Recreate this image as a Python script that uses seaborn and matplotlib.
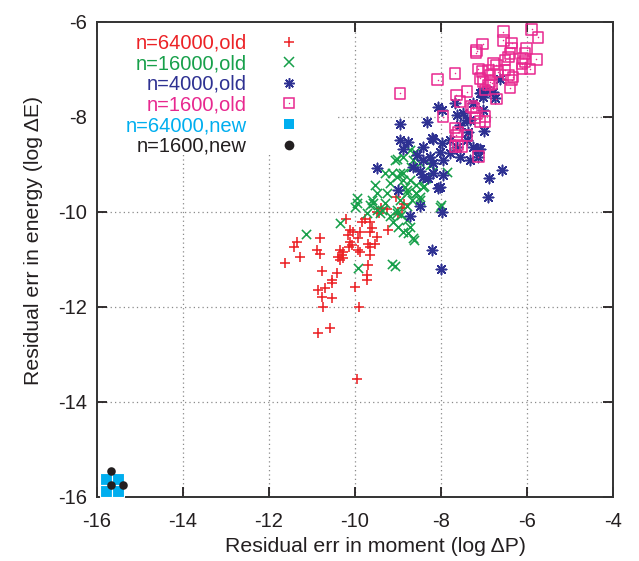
import matplotlib
matplotlib.use("Agg")
import matplotlib.pyplot as plt
import seaborn as sns
from matplotlib.lines import Line2D
from matplotlib.patches import Rectangle
from matplotlib.legend_handler import HandlerTuple

sns.set_style("ticks")
plt.rcParams['font.family'] = ['Liberation Sans', 'DejaVu Sans']

# ---------------- data ----------------
red_x = [-11.63, -11.43, -11.36, -11.28, -10.81, -10.89, -10.81, -10.77, -10.85, -10.70,
         -10.54, -10.54, -10.77, -10.54, -10.74, -10.85, -10.57, -10.00, -9.90, -9.95,
         -9.73, -9.73, -9.69, -10.43, -10.39, -10.35, -10.27, -10.35, -10.31, -10.27,
         -9.92, -9.88, -9.65, -10.12, -10.08, -10.13, -9.69, -9.65, -9.50, -9.53,
         -9.88, -9.92, -10.12, -10.04, -10.16, -10.21, -9.84, -9.77, -9.65, -9.61,
         -9.65, -9.23, -9.50, -9.44, -9.39, -9.25, -9.05, -9.00, -8.87, -8.91]
red_y = [-11.09, -10.74, -10.63, -10.95, -10.56, -10.81, -10.88, -11.25, -11.65, -11.61,
         -11.51, -11.44, -11.79, -11.82, -12.00, -12.55, -12.45, -11.58, -12.01, -13.53,
         -11.44, -11.33, -11.12, -11.30, -10.95, -11.02, -10.98, -10.81, -10.91, -10.84,
         -10.81, -10.84, -10.91, -10.63, -10.70, -10.74, -10.67, -10.74, -10.53, -10.67,
         -10.42, -10.56, -10.39, -10.42, -10.49, -10.15, -10.21, -10.16, -10.21, -10.35,
         -10.42, -10.39, -10.00, -10.03, -9.92, -9.95, -9.68, -10.05, -9.84, -9.92]

green_x = [-11.13, -10.35, -9.96, -9.96, -10.00, -9.92, -9.13, -9.08, -9.53, -9.50,
           -9.61, -9.57, -9.30, -9.30, -9.38, -9.65, -9.50, -9.42, -9.73, -9.26,
           -9.19, -9.15, -9.07, -9.03, -8.95, -8.88, -8.84, -8.80, -8.68, -9.19,
           -9.11, -9.00, -8.88, -8.76, -8.64, -9.03, -8.92, -8.80, -8.72, -8.57,
           -8.49, -8.41, -8.02, -9.03, -8.88, -8.72, -8.57, -8.80, -8.95, -8.80,
           -9.03, -8.88, -8.65, -8.49, -8.26, -8.20, -7.87, -8.60, -8.35, -8.70,
           -8.73, -8.58, -8.49, -8.39, -8.63, -8.01]
green_y = [-10.46, -10.24, -9.72, -9.82, -9.90, -11.19, -11.10, -11.15, -9.44, -9.61,
           -9.75, -9.82, -9.19, -9.82, -9.96, -9.86, -9.96, -10.03, -10.03, -9.61,
           -9.40, -9.19, -8.91, -8.88, -9.19, -9.33, -9.47, -9.61, -9.75, -10.10,
           -10.21, -10.32, -10.42, -10.45, -10.56, -9.96, -10.07, -10.17, -10.32, -9.61,
           -9.75, -9.47, -9.90, -9.26, -9.19, -9.33, -9.44, -9.54, -9.75, -9.89,
           -10.03, -8.84, -8.91, -8.98, -9.02, -9.16, -9.16, -8.75, -9.30, -9.05,
           -8.71, -9.61, -9.69, -9.46, -10.59, -9.86]

blue_x = [-9.50, -8.96, -8.95, -8.76, -8.88, -8.33, -8.06, -7.98, -8.41, -8.18,
          -7.98, -7.79, -7.63, -7.56, -7.79, -8.02, -8.26, -8.41, -8.18, -7.95,
          -7.40, -7.25, -7.09, -7.33, -7.13, -7.37, -7.56, -7.63, -7.48, -7.40,
          -7.09, -7.02, -6.94, -8.02, -7.98, -8.49, -8.72, -8.22, -8.01, -9.00,
          -8.41, -8.18, -7.95, -6.90, -6.88, -6.59, -6.63, -6.78, -6.74, -7.67,
          -7.25, -7.02, -7.05, -7.33, -8.06, -7.00, -7.15, -8.22, -8.55, -8.65,
          -8.30, -8.50]
blue_y = [-9.07, -8.16, -8.49, -8.53, -8.67, -8.11, -7.79, -7.86, -8.63, -8.46,
          -8.56, -8.49, -8.63, -8.84, -8.77, -8.74, -8.84, -8.91, -8.98, -8.91,
          -8.49, -8.63, -8.67, -8.91, -8.84, -8.32, -8.17, -7.96, -7.93, -8.07,
          -7.51, -7.58, -7.44, -9.47, -10.00, -9.89, -10.10, -10.81, -11.21, -9.54,
          -9.26, -9.19, -9.23, -9.68, -9.28, -9.12, -7.21, -7.47, -7.61, -7.72,
          -7.72, -7.86, -7.47, -8.07, -9.50, -8.30, -8.67, -8.45, -8.80, -9.05,
          -9.30, -9.15]

mag_x = [-5.89, -5.74, -6.55, -6.55, -6.36, -6.36, -6.40, -6.43, -6.51, -6.01,
         -6.05, -6.09, -6.05, -6.12, -5.78, -5.93, -6.12, -6.78, -6.71, -6.67,
         -6.51, -6.43, -6.33, -6.36, -6.40, -6.71, -6.86, -6.82, -7.03, -7.17,
         -7.19, -7.67, -8.08, -7.13, -7.05, -6.90, -6.98, -7.09, -7.02, -6.86,
         -6.90, -7.64, -7.56, -7.40, -7.95, -7.25, -7.17, -7.21, -6.98, -6.98,
         -7.67, -7.60, -7.64, -7.40, -7.60, -7.67, -7.52, -7.13, -8.95, -7.29,
         -7.09]
mag_y = [-6.16, -6.33, -6.21, -6.39, -6.45, -6.56, -6.67, -6.74, -6.81, -6.56,
         -6.67, -6.77, -6.84, -6.88, -6.79, -7.00, -6.98, -6.88, -6.91, -7.05,
         -7.02, -7.12, -7.16, -7.23, -7.40, -7.63, -7.12, -7.30, -6.47, -6.61,
         -6.65, -7.09, -7.22, -7.00, -7.05, -7.02, -7.44, -7.19, -7.26, -7.26,
         -7.33, -7.54, -7.68, -7.47, -8.00, -7.82, -7.93, -8.03, -8.00, -8.10,
         -8.24, -8.32, -8.39, -8.39, -8.60, -8.63, -8.63, -8.84, -7.51, -7.79,
         -8.10]

cyan_x = [-15.78, -15.52, -15.78, -15.52]
cyan_y = [-15.62, -15.62, -15.87, -15.87]

black_x = [-15.68, -15.68, -15.39]
black_y = [-15.46, -15.76, -15.76]

labels = ["n=64000,old", "n=16000,old", "n=4000,old", "n=1600,old",
          "n=64000,new", "n=1600,new"]
xticks = [-16, -14, -12, -10, -8, -6, -4]
yticks = [-16, -14, -12, -10, -8, -6]

# ---------------- style ----------------
RED = "#ec2226"
GREEN = "#17a04a"
BLUE = "#2e3192"
MAG = "#e8288f"
CYAN = "#00aeef"
BLACK = "#231f20"
colors = [RED, GREEN, BLUE, MAG, CYAN, BLACK]
FS = 14.5

fig = plt.figure(figsize=(6.39, 5.61), dpi=100)
ax = fig.add_axes([97 / 639, 1 - 496.7 / 561, 516 / 639, 475 / 561])

# dotted grid (drawn under a white mask behind the key)
for t in xticks[1:-1]:
    ax.axvline(t, color="#8a8a8a", lw=0.9, ls=(0, (1, 2.5)), zorder=0.5)
for t in yticks[1:-1]:
    ax.axhline(t, color="#8a8a8a", lw=0.9, ls=(0, (1, 2.5)), zorder=0.5)
ax.add_patch(Rectangle((-16, -8.81), 16 - 10.45, 2.81, facecolor="white",
                       edgecolor="none", zorder=0.7))

sns.scatterplot(x=red_x, y=red_y, marker="+", s=52, color=RED, edgecolor=None,
                linewidth=1.15, ax=ax, zorder=2)
sns.scatterplot(x=green_x, y=green_y, marker="x", s=44, color=GREEN, edgecolor=None,
                linewidth=1.15, ax=ax, zorder=2)
sns.scatterplot(x=blue_x, y=blue_y, marker=(8, 2, 0), s=55, color=BLUE, edgecolor=None,
                linewidth=1.15, ax=ax, zorder=2)
sns.scatterplot(x=mag_x, y=mag_y, marker="s", s=58, color=MAG, facecolor="none",
                edgecolor=MAG, linewidth=1.1, ax=ax, zorder=2)
sns.scatterplot(x=mag_x, y=mag_y, marker="o", s=1.2, color=MAG, linewidth=0,
                ax=ax, zorder=2)
sns.scatterplot(x=cyan_x, y=cyan_y, marker="s", s=64, color=CYAN, edgecolor="white",
                linewidth=0.8, ax=ax, zorder=3, clip_on=False)
sns.scatterplot(x=black_x, y=black_y, marker="o", s=38, color=BLACK, linewidth=0,
                ax=ax, zorder=4, clip_on=False)

ax.set_xlim(-16, -4)
ax.set_ylim(-16, -6)
ax.set_xticks(xticks)
ax.set_yticks(yticks)
ax.set_xticklabels([str(t) for t in xticks])
ax.set_yticklabels([str(t) for t in yticks])
ax.tick_params(direction="in", length=7, width=1.3, top=True, right=True,
               labelsize=FS, colors=BLACK)
ax.tick_params(axis="x", pad=11)
ax.tick_params(axis="y", pad=7)
for sp in ax.spines.values():
    sp.set_linewidth(1.4)
    sp.set_color("#333333")
    sp.set_visible(True)

ax.set_xlabel("Residual err in moment (log \u0394P)", fontsize=15.3, color=BLACK, va="top")
ax.set_ylabel("Residual err in energy (log \u0394E)", fontsize=15.3, color=BLACK)
ax.xaxis.set_label_coords(0.54, -0.085)
ax.yaxis.set_label_coords(-0.105, 0.54)

# key
h_red = Line2D([], [], ls="none", marker="+", color=RED, ms=7.5, mew=1.1)
h_green = Line2D([], [], ls="none", marker="x", color=GREEN, ms=6.8, mew=1.1)
h_blue = Line2D([], [], ls="none", marker=(8, 2, 0), color=BLUE, ms=7.5, mew=1.1)
h_mag = (Line2D([], [], ls="none", marker="s", mfc="none", mec=MAG, ms=7.5, mew=1.1),
         Line2D([], [], ls="none", marker="o", color=MAG, ms=1.0, mew=0))
h_cyan = Line2D([], [], ls="none", marker="s", color=CYAN, ms=7, mew=0)
h_black = Line2D([], [], ls="none", marker="o", color=BLACK, ms=7, mew=0)
leg = ax.legend([h_red, h_green, h_blue, h_mag, h_cyan, h_black], labels,
                handler_map={tuple: HandlerTuple(ndivide=1, pad=0)},
                loc="upper right", bbox_to_anchor=(0.4264, 1.013), markerfirst=False,
                frameon=False, fontsize=FS, labelspacing=0.08, handlelength=1.0,
                handletextpad=1.6, borderpad=0.4)
for col in leg._legend_box._children[1]._children:
    col.align = "right"
for t, c in zip(leg.get_texts(), colors):
    t.set_color(c)

fig.savefig("out.png", dpi=100)
